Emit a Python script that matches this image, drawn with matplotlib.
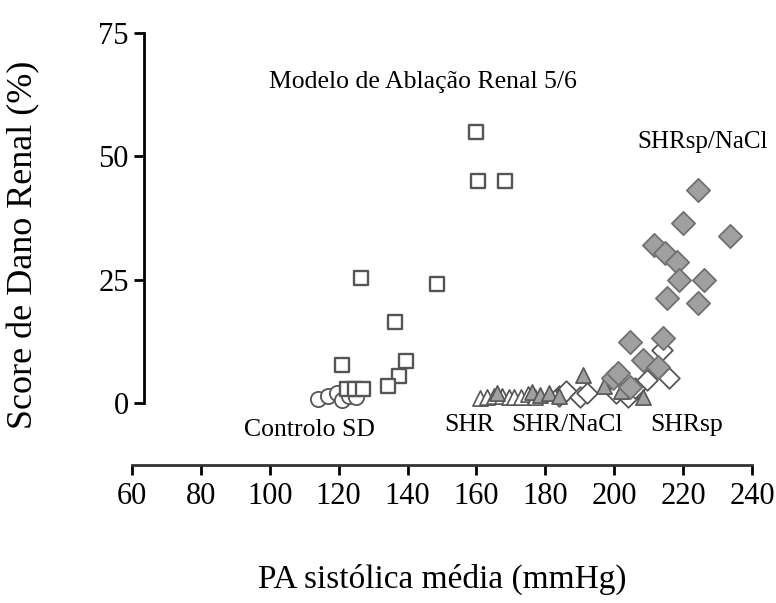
import matplotlib.pyplot as plt

plt.rcParams['font.family'] = ['Liberation Serif', 'DejaVu Serif']

# Dados
sd_x = [114, 117, 119.5, 121, 123, 125]
sd_y = [0.8, 1.5, 2.0, 0.6, 1.5, 1.2]

abl_x = [160, 160.5, 168.3, 126.5, 148.6, 136.4, 139.5, 137.5, 134.3, 121, 122.4, 124.7, 127]
abl_y = [55, 45, 45, 25.3, 24.1, 16.4, 8.6, 5.5, 3.5, 7.7, 2.8, 2.8, 2.8]

shr_x = [161, 163, 165, 167.5, 169.5, 171, 173, 175, 177]
shr_y = [1.0, 1.2, 1.5, 1.5, 1.2, 1.3, 1.2, 1.8, 1.2]

shrnacl_x = [166, 176, 178.5, 181, 184, 191, 197, 208.5, 202]
shrnacl_y = [2.0, 2.2, 1.6, 2.0, 1.5, 5.7, 3.5, 1.2, 2.5]

shrsp_x = [184, 186, 190, 192, 200.5, 204, 206, 209.5, 214, 216]
shrsp_y = [1.5, 2.5, 1.2, 2.0, 2.0, 1.2, 3.0, 4.7, 10.7, 5.1]

shrspnacl_x = [224.3, 220, 233.6, 211.6, 214.8, 218.2, 218.8, 226, 215.3, 224.3,
               204.6, 214.2, 208.4, 212.7, 199.7, 204.6, 201]
shrspnacl_y = [43.2, 36.5, 33.9, 32, 30.4, 28.6, 24.9, 24.9, 21.3, 20.3,
               12.4, 13.2, 8.7, 7.3, 5.0, 3.2, 6.0]

x_ticks = [60, 80, 100, 120, 140, 160, 180, 200, 220, 240]
y_ticks = [0, 25, 50, 75]

fig = plt.figure(figsize=(7.76, 6.03), dpi=100)
ax = fig.add_axes([0.1479, 0.2171, 0.8433, 0.7527])

edge = '#555555'
ax.scatter(sd_x, sd_y, marker='o', s=120, facecolor='white', edgecolor=edge, linewidth=1.3, zorder=3)
ax.scatter(abl_x, abl_y, marker='s', s=100, facecolor='white', edgecolor=edge, linewidth=1.7, zorder=3)
ax.scatter(shr_x, shr_y, marker='^', s=120, facecolor='white', edgecolor=edge, linewidth=1.2, zorder=3)
ax.scatter(shrnacl_x, shrnacl_y, marker='^', s=120, facecolor='#a0a0a0', edgecolor=edge, linewidth=1.2, zorder=4)
ax.scatter(shrsp_x, shrsp_y, marker='D', s=110, facecolor='white', edgecolor=edge, linewidth=1.3, zorder=3)
ax.scatter(shrspnacl_x, shrspnacl_y, marker='D', s=140, facecolor='#a0a0a0', edgecolor='#707070', linewidth=1.3, zorder=5)

ax.set_xlim(55, 245)
ax.set_ylim(-14, 78)

for s in ['top', 'right']:
    ax.spines[s].set_visible(False)
ax.spines['left'].set_position(('data', 63.5))
ax.spines['left'].set_bounds(0, 75)
ax.spines['bottom'].set_position(('data', -12.6))
ax.spines['bottom'].set_bounds(60, 240)
ax.spines['left'].set_linewidth(2)
ax.spines['bottom'].set_linewidth(2)
ax.spines['bottom'].set_color('#333333')

ax.set_xticks(x_ticks)
ax.set_yticks(y_ticks)
ax.tick_params(axis='both', direction='out', length=7, width=2, labelsize=22)
ax.tick_params(axis='x', pad=5)
ax.tick_params(axis='y', pad=4)

ax.set_ylabel('Score de Dano Renal (%)', fontsize=26, labelpad=42)
ax.set_xlabel('PA sistólica média (mmHg)', fontsize=24, labelpad=38)

ax.text(144.5, 65, 'Modelo de Ablação Renal 5/6', fontsize=18.5, ha='center', va='center')
ax.text(225.8, 53, 'SHRsp/NaCl', fontsize=18, ha='center', va='center')
ax.text(111.4, -5.5, 'Controlo SD', fontsize=18.5, ha='center', va='center')
ax.text(158, -4.5, 'SHR', fontsize=18.5, ha='center', va='center')
ax.text(186.3, -4.5, 'SHR/NaCl', fontsize=18.5, ha='center', va='center')
ax.text(220.9, -4.5, 'SHRsp', fontsize=18.5, ha='center', va='center')

fig.savefig('out.png', dpi=100)
